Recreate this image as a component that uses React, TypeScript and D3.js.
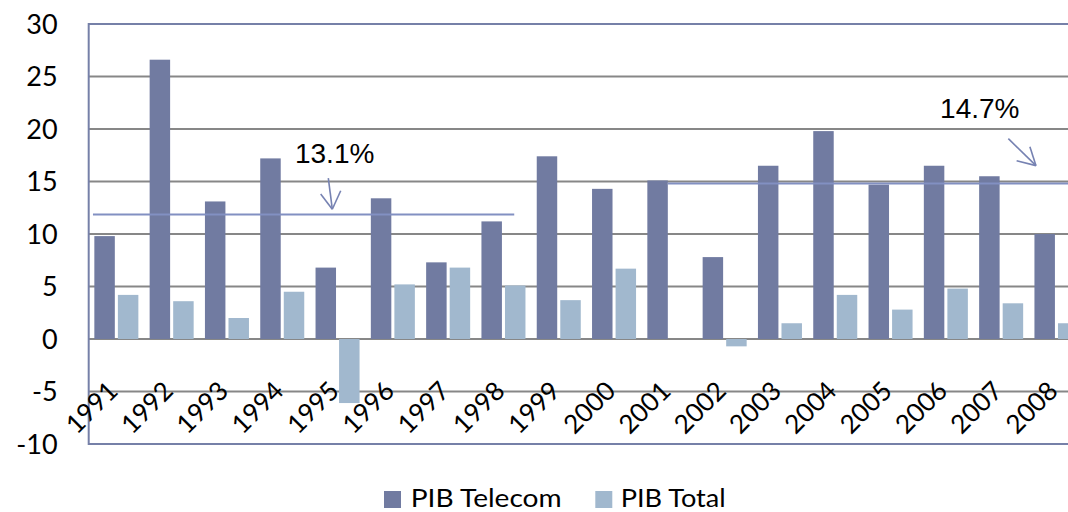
import React from "react";
import * as d3 from "d3";

const years = ["1991","1992","1993","1994","1995","1996","1997","1998","1999","2000","2001","2002","2003","2004","2005","2006","2007","2008"];
const pibTelecom = [9.8, 26.6, 13.1, 17.2, 6.8, 13.4, 7.3, 11.2, 17.4, 14.3, 15.1, 7.8, 16.5, 19.8, 14.7, 16.5, 15.5, 10.0];
const pibTotal: (number | null)[] = [4.2, 3.6, 2.0, 4.5, -6.1, 5.2, 6.8, 5.1, 3.7, 6.7, null, -0.7, 1.5, 4.2, 2.8, 4.8, 3.4, 1.5];
const yTicks = [-10, -5, 0, 5, 10, 15, 20, 25, 30];
const seriesNames = ["PIB Telecom", "PIB Total"];

// annotations in data space: x = fractional category index, y = value
const avgLines = [
  { label: "13.1%", level: 11.86, x0: 0.077, x1: 7.695, tx: 3.73, ty: 16.79,
    arrow: { from: [4.333, 15.33], tip: [4.405, 12.36], a1: [4.195, 13.81], a2: [4.557, 14.12] } },
  { label: "14.7%", level: 14.8, x0: 10.476, x1: 18.5, tx: 15.396, ty: 21.09,
    arrow: { from: [16.63, 19.08], tip: [17.13, 16.51], a1: [16.78, 16.98], a2: [17.02, 18.32] } },
];

const W = 1068, H = 512;
const left = 88.7, right = 1084.1, top = 24, bottom = 444;
const colors = ["#717ba1", "#a1b8ce"];

export default function App() {
  const y = d3.scaleLinear().domain([-10, 30]).range([bottom, top]);
  const x0 = d3.scaleBand<string>().domain(years).range([left, right]).paddingInner(0.204).paddingOuter(0.102);
  const x1 = d3.scaleBand<string>().domain(seriesNames).range([0, x0.bandwidth()]).paddingInner(0.13);
  const xi = d3.scaleLinear().domain([0, 18]).range([left, right]);
  const series = [pibTelecom, pibTotal];

  return (
    <svg width={W} height={H} style={{ position: "absolute", left: 0, top: 0, background: "#fff" }}>
      {/* gridlines */}
      {yTicks.filter(t => t > -10 && t < 30).map(t => (
        <line key={t} x1={left} x2={W} y1={y(t)} y2={y(t)} stroke="#878787" strokeWidth={2} />
      ))}
      {/* plot border */}
      <line x1={left} x2={W} y1={y(30)} y2={y(30)} stroke="#7680a8" strokeWidth={2} />
      <line x1={left} x2={W} y1={y(-10)} y2={y(-10)} stroke="#7680a8" strokeWidth={2} />
      <line x1={left} x2={left} y1={y(30) - 1} y2={y(-10) + 1} stroke="#7680a8" strokeWidth={2} />
      {/* bars */}
      {series.map((vals, si) => (
        <g key={si} fill={colors[si]}>
          {vals.map((v, i) => v == null ? null : (
            <rect key={i}
              x={(x0(years[i]) as number) + (x1(seriesNames[si]) as number)}
              width={x1.bandwidth()}
              y={y(Math.max(0, v))}
              height={Math.abs(y(v) - y(0))} />
          ))}
        </g>
      ))}
      {/* y tick labels */}
      {yTicks.map(t => (
        <text key={t} x={57.7} y={y(t)} dy="0.36em" textAnchor="end"
          fontFamily="Lato, 'Open Sans', sans-serif" fontSize={27} fill="#000">{t}</text>
      ))}
      {/* x labels */}
      {years.map(yr => {
        const ax = (x0(yr) as number) + x0.bandwidth() / 2 + 3;
        const ay = y(-5) + 1;
        return (
          <text key={yr} x={ax} y={ay} textAnchor="end" transform={`rotate(-45 ${ax} ${ay})`}
            fontFamily="Lato, 'Open Sans', sans-serif" fontSize={26} fill="#000">{yr}</text>
        );
      })}
      {/* average annotations */}
      {avgLines.map((a, k) => (
        <g key={k}>
          <line x1={xi(a.x0)} x2={xi(a.x1)} y1={y(a.level)} y2={y(a.level)} stroke="#8290c2" strokeWidth={2} />
          <line x1={xi(a.arrow.from[0])} y1={y(a.arrow.from[1])} x2={xi(a.arrow.tip[0])} y2={y(a.arrow.tip[1])} stroke="#7682b2" strokeWidth={1.6} />
          <line x1={xi(a.arrow.a1[0])} y1={y(a.arrow.a1[1])} x2={xi(a.arrow.tip[0])} y2={y(a.arrow.tip[1])} stroke="#7682b2" strokeWidth={1.6} />
          <line x1={xi(a.arrow.a2[0])} y1={y(a.arrow.a2[1])} x2={xi(a.arrow.tip[0])} y2={y(a.arrow.tip[1])} stroke="#7682b2" strokeWidth={1.6} />
          <text x={xi(a.tx)} y={y(a.ty)} fontFamily="'Liberation Sans', Arial, sans-serif" fontSize={28} fill="#000">{a.label}</text>
        </g>
      ))}
      {/* legend */}
      <rect x={384} y={491} width={17} height={17} fill={colors[0]} />
      <text x={410.7} y={506.5} fontFamily="Lato, 'Open Sans', sans-serif" fontSize={25} fill="#000"
        textLength={151} lengthAdjust="spacingAndGlyphs">{seriesNames[0]}</text>
      <rect x={595.3} y={491} width={17} height={17} fill={colors[1]} />
      <text x={620.7} y={506.5} fontFamily="Lato, 'Open Sans', sans-serif" fontSize={25} fill="#000"
        textLength={105} lengthAdjust="spacingAndGlyphs">{seriesNames[1]}</text>
    </svg>
  );
}
